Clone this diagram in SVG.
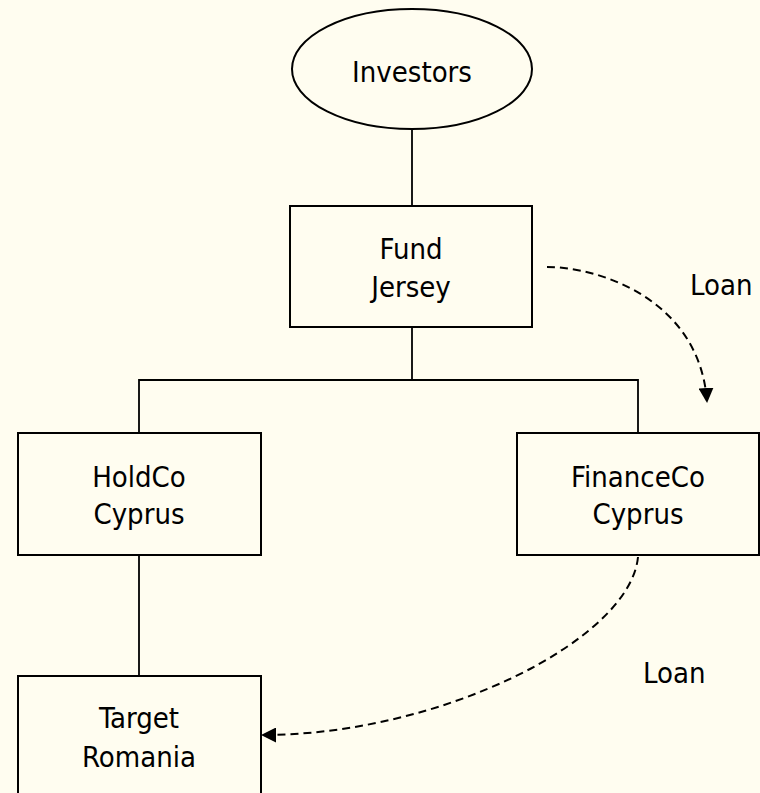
<svg xmlns="http://www.w3.org/2000/svg" width="760" height="793" viewBox="0 0 760 793">
  <style>
    .bg { fill: #FFFDF0; }
    .shape { fill: #FFFDF0; stroke: #000; stroke-width: 2; }
    .link { fill: none; stroke: #000; stroke-width: 1.8; }
    .loan { fill: none; stroke: #000; stroke-width: 2; stroke-dasharray: 8 5; marker-end: url(#head); }
    text { font-family: "DejaVu Sans Condensed", "DejaVu Sans", sans-serif; font-stretch: condensed; font-size: 29px; fill: #000; text-anchor: middle; }
    .label { text-anchor: start; }
  </style>
  <defs>
    <marker id="head" viewBox="0 0 15 15" refX="14" refY="7.5" markerWidth="15" markerHeight="15" markerUnits="userSpaceOnUse" orient="auto">
      <path d="M0,0 L15,7.5 L0,15 Z" fill="#000"/>
    </marker>
  </defs>

  <rect class="bg" x="0" y="0" width="760" height="793"/>

  <!-- ownership lines and loan flows -->
  <g id="connectors">
    <line class="link" x1="412" y1="129" x2="412" y2="206"/>
    <line class="link" x1="412" y1="327" x2="412" y2="380"/>
    <polyline class="link" points="139,433 139,380 638,380 638,433"/>
    <line class="link" x1="139" y1="555" x2="139" y2="676"/>
    <path class="loan" d="M547,267 C600,267 700,300 707,402"/>
    <path class="loan" d="M638,557 C630,640 440,735 262,735"/>
    <text class="label" x="690" y="295">Loan</text>
    <text class="label" x="643" y="683">Loan</text>
  </g>

  <g id="investors">
    <ellipse class="shape" cx="412" cy="69" rx="120" ry="60"/>
    <text x="412" y="82">Investors</text>
  </g>

  <g id="fund-jersey">
    <rect class="shape" x="290" y="206" width="242" height="121"/>
    <text x="411" y="259">Fund</text>
    <text x="411" y="297">Jersey</text>
  </g>

  <g id="holdco-cyprus">
    <rect class="shape" x="18" y="433" width="243" height="122"/>
    <text x="139" y="487">HoldCo</text>
    <text x="139" y="524">Cyprus</text>
  </g>

  <g id="financeco-cyprus">
    <rect class="shape" x="517" y="433" width="242" height="122"/>
    <text x="638" y="487">FinanceCo</text>
    <text x="638" y="524">Cyprus</text>
  </g>

  <g id="target-romania">
    <rect class="shape" x="18" y="676" width="243" height="122"/>
    <text x="139" y="728">Target</text>
    <text x="139" y="767">Romania</text>
  </g>
</svg>
